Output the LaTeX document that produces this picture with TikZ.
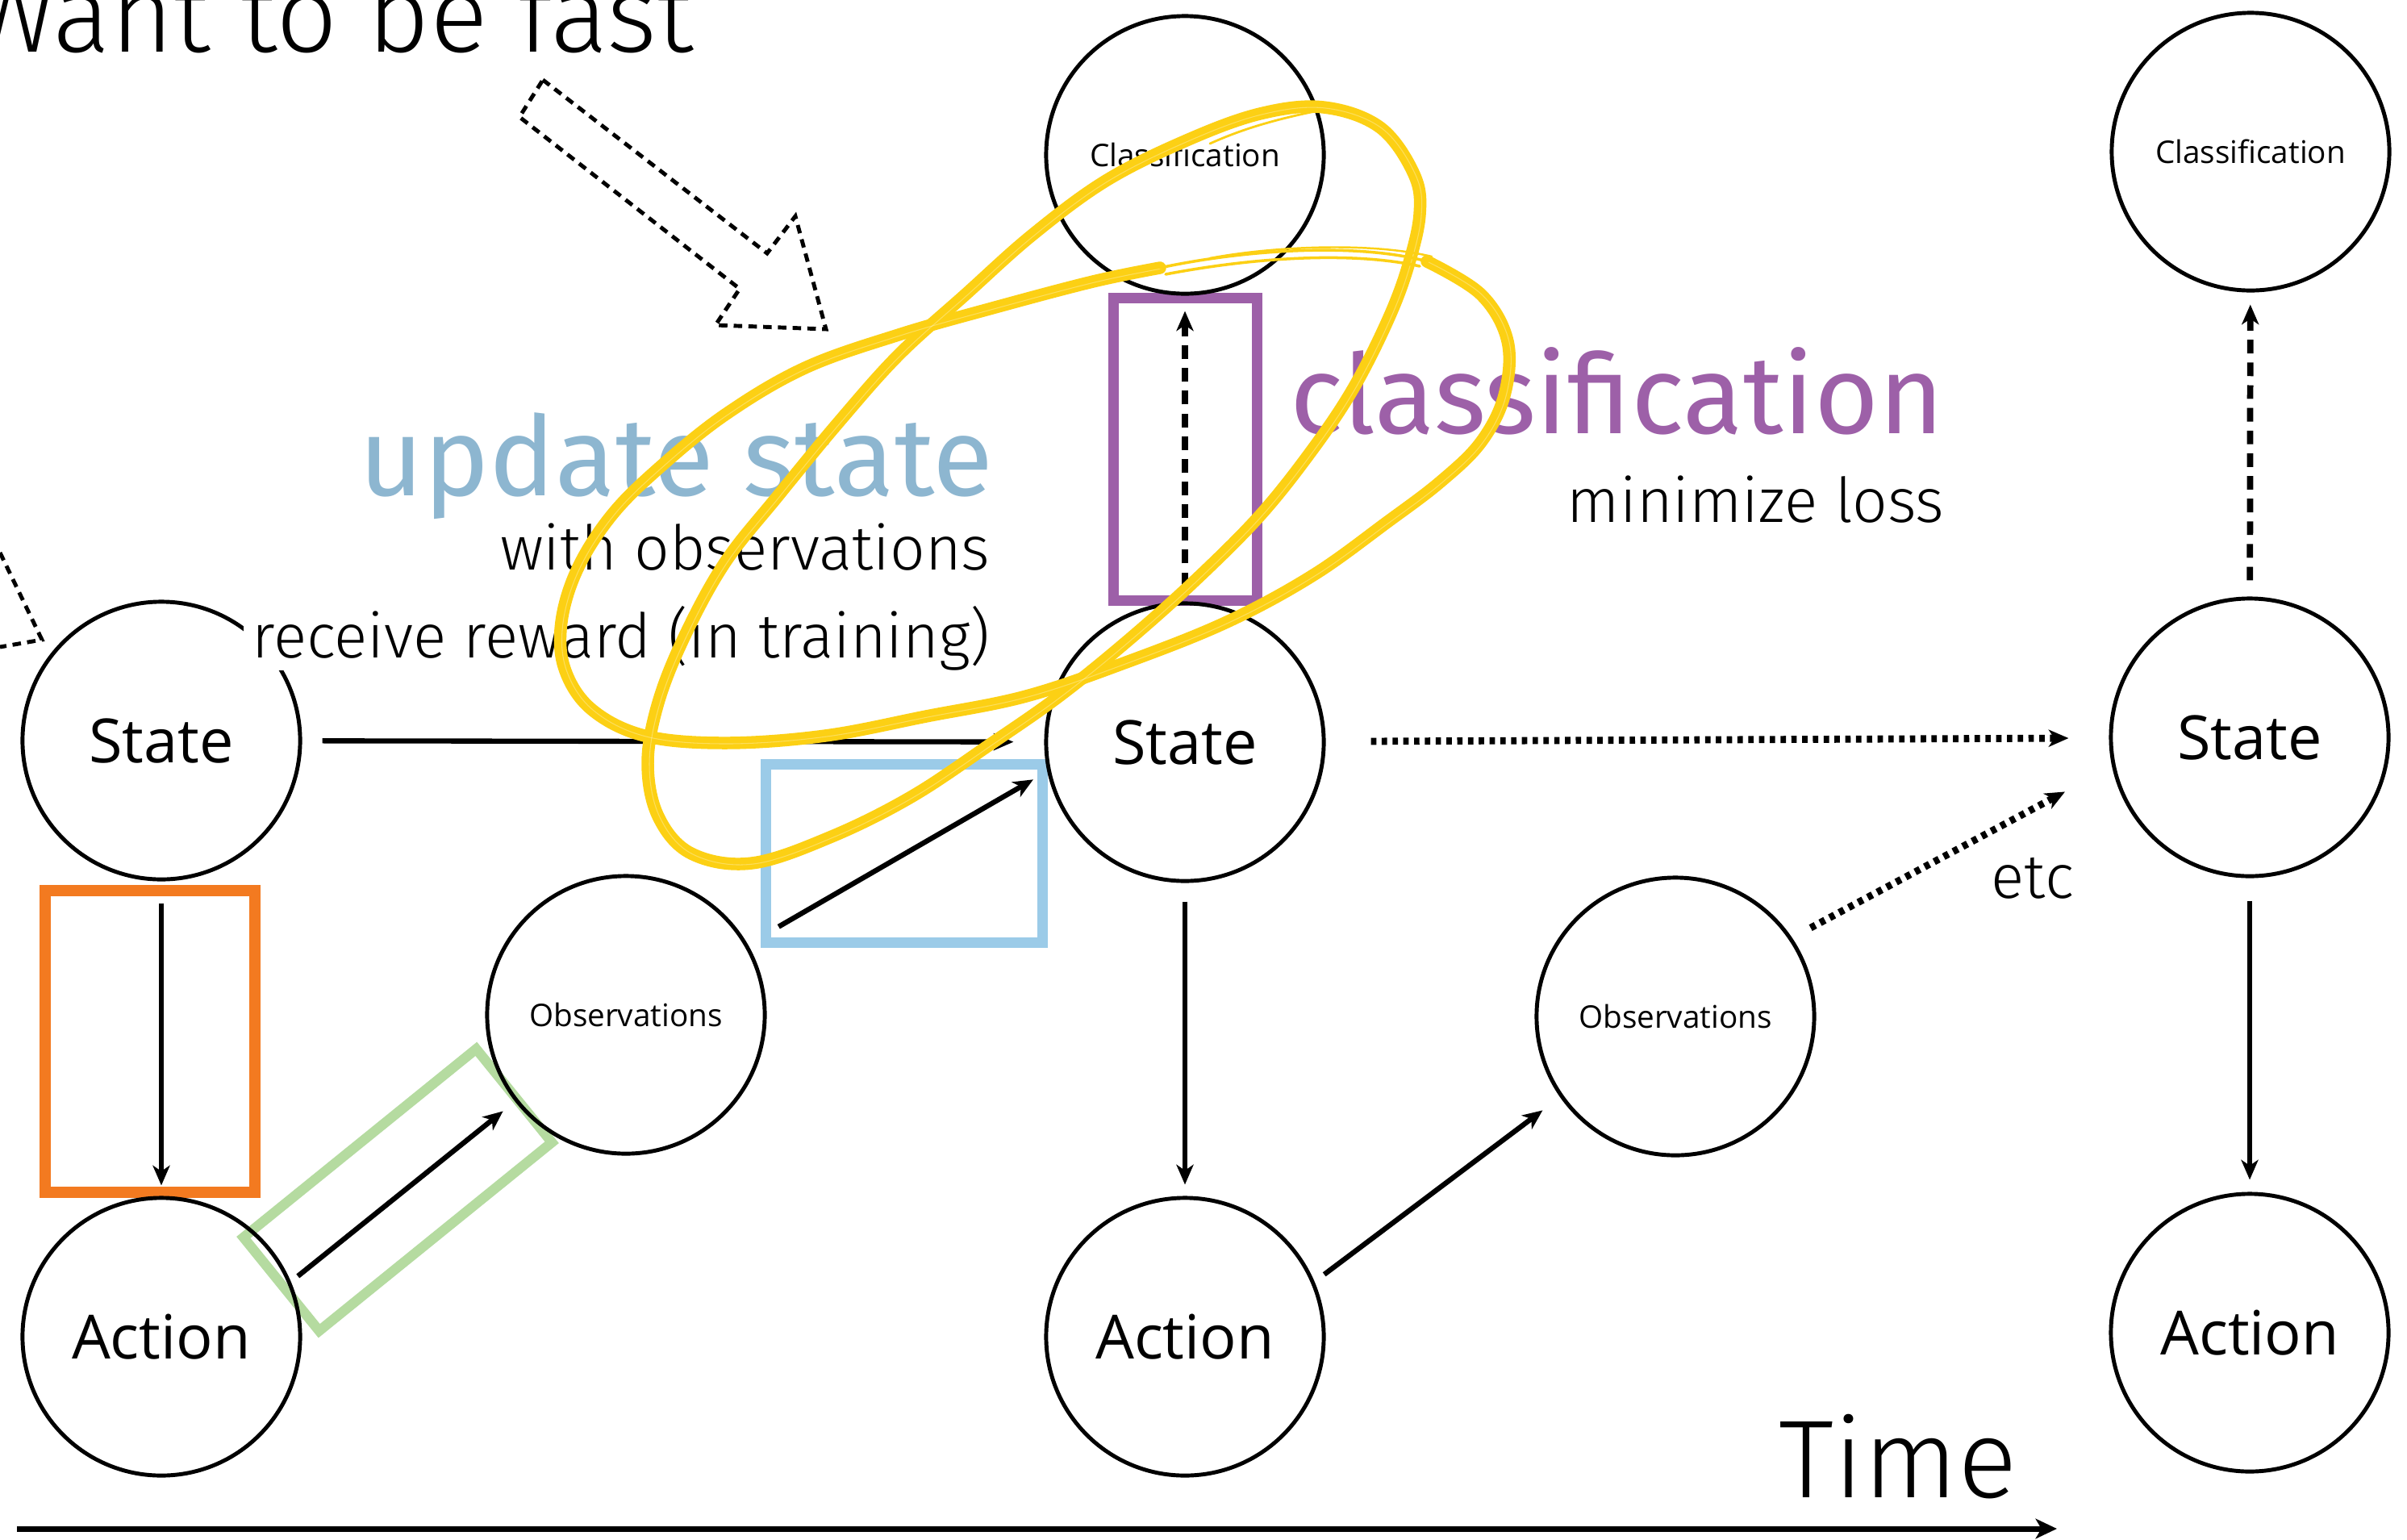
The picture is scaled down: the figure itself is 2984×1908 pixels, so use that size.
\documentclass[tikz,border=0pt]{standalone}
\usepackage{fontspec}
\usetikzlibrary{arrows.meta}
\newfontfamily\nodefont{Open Sans}
\newfontfamily\regfont{Fira Sans}
\IfFontExistsTF{Fira Sans Light}{\newfontfamily\lightfont{Fira Sans Light}}{\newfontfamily\lightfont{Fira Sans}}
\definecolor{markyellow}{RGB}{252,208,20}
\definecolor{boxorange}{RGB}{243,122,32}
\definecolor{boxgreen}{RGB}{181,219,160}
\definecolor{boxblue}{RGB}{155,203,232}
\definecolor{boxpurple}{RGB}{157,96,168}
\definecolor{textblue}{RGB}{141,182,208}
% hand-drawn marker loops, drawn with a given style
\newcommand\markloopA[1]{\draw[#1] plot[smooth cycle, tension=0.6] coordinates {
  (1641,133) (1711,158) (1753,216) (1760,266) (1745,332) (1720,398) (1678,481)
  (1628,556) (1562,639) (1479,722) (1396,796) (1313,863) (1230,921) (1131,987)
  (1031,1037) (932,1070) (857,1058) (816,1012) (803,946) (816,871) (849,788)
  (899,697) (965,614) (1040,523) (1114,440) (1197,365) (1280,291) (1371,224)
  (1471,174) (1562,141)};}
\newcommand\markloopB[1]{\draw[#1] plot[smooth, tension=0.6] coordinates {
  (1769,324) (1836,365) (1869,423) (1865,490)
  (1836,548) (1786,597) (1720,647) (1628,713) (1521,771) (1396,821) (1272,863)
  (1148,888) (1023,912) (899,921) (799,912) (733,879) (700,829) (696,771)
  (716,705) (758,639) (816,581) (899,514) (998,456) (1114,415) (1230,382) (1355,349)
  (1438,332)};}
\begin{document}
\begin{tikzpicture}[x=0.01cm,y=-0.01cm,
  state/.style={circle, draw, line width=1.4pt, minimum size=3.44cm, inner sep=0pt,
    font=\nodefont\fontsize{21.5pt}{24pt}\selectfont},
  small/.style={state, font=\nodefont\fontsize{11pt}{13pt}\selectfont},
  tipped/.style={-{Stealth[length=7pt,width=6pt,inset=2pt]}},
  conn/.style={tipped, line width=1.8pt},
  dashconn/.style={tipped, line width=2.2pt, dash pattern=on 4.8pt off 3.2pt},
  dotconn/.style={tipped, line width=2.5pt, dash pattern=on 1.9pt off 1.9pt},
  hollow/.style={line width=1.4pt, dash pattern=on 3pt off 2.2pt},
  lighttext/.style={inner sep=0pt, font=\lightfont\fontsize{21.8pt}{25pt}\selectfont},
  bigtext/.style={inner sep=0pt, font=\regfont\fontsize{39pt}{42pt}\selectfont},
  marker/.style={markyellow, line width=4.4pt, line cap=round, line join=round},
  streak/.style={white, opacity=0.3, line width=0.3pt},
  whisker/.style={markyellow, line width=1pt, line cap=round}
]
\useasboundingbox (0,0) rectangle (2984,1908);
\fill[white] (0,0) rectangle (2984,1908);
\clip (0,0) rectangle (2984,1908);

% highlight boxes
\draw[boxorange, line width=4pt] (56,1104) rectangle (316,1478);
\draw[boxblue, line width=3.7pt] (949,947) rectangle (1292,1168);
\draw[boxpurple, line width=3.7pt] (1380,369) rectangle (1558,744);
\node[draw=boxgreen, line width=3.5pt, minimum width=3.71cm, minimum height=1.49cm,
      rotate=39, inner sep=0pt] (gbox) at (493,1475) {};

% hollow dashed arrows
\draw[hollow] (673,99) -- (951,314) -- (986,268) -- (1024,408) -- (887,403)
  -- (917,358) -- (644,145) -- cycle;
\draw[hollow] (0,685) -- (52,793) -- (0,802);

% nodes
\node[state] (s1) at (200,918) {State};
\node[state] (a1) at (200,1657) {Action};
\node[small] (o1) at (776,1258) {Observations};
\node[small] (c1) at (1469,192) {Classification};
\node[state] (s2) at (1469,920) {State};
\node[state] (a2) at (1469,1657) {Action};
\node[small] (o2) at (2077,1260) {Observations};
\node[small] (c2) at (2790,188) {Classification};
\node[state] (s3) at (2789,914) {State};
\node[state] (a3) at (2789,1652) {Action};

% connectors
\draw[conn, shorten <=0.25cm, shorten >=0.38cm] (s1) -- (s2);
\draw[conn, shorten <=0.27cm, shorten >=0.13cm] (s1) -- (a1);
\draw[conn, shorten <=0.11cm, shorten >=0.19cm] (a1.23.5) -- (o1.218);
\draw[conn, shorten <=0.44cm, shorten >=0.2cm] (o1.30) -- (s2.192);
\draw[dashconn, shorten <=0.19cm, shorten >=0.19cm] (s2) -- (c1);
\draw[conn, shorten <=0.23cm, shorten >=0.14cm] (s2) -- (a2);
\draw[conn, shorten <=0.15cm, shorten >=0.27cm] (a2.23) -- (o2.215);
\draw[dotconn, shorten <=0.26cm, shorten >=0.66cm] (o2.34) -- (s3.192);
\draw[dotconn, shorten <=0.56cm, shorten >=0.5cm] (s2) -- (s3);
\draw[conn, shorten <=0.28cm, shorten >=0.15cm] (s3) -- (a3);
\draw[dashconn, shorten <=0.2cm, shorten >=0.15cm] (s3) -- (c2);

% time axis
\coordinate (t0) at (21,1895);
\coordinate (t1) at (2550,1895);
\draw[line width=2pt, -{Stealth[length=7.5pt,width=7pt,inset=2pt]}] (t0) -- (t1);

% texts
\node[anchor=base east, inner sep=0pt, font=\lightfont\fontsize{38pt}{40pt}\selectfont]
  (title) at (861,64) {Want to be fast};
\node[bigtext, anchor=base east, text=textblue] (upd) at (1232,614) {update state};
\node[lighttext, anchor=base east] (withobs) at (1228,706) {with observations};
\node[lighttext, anchor=base east, inner xsep=3pt, fill=white] (reward) at (1239,815)
  {receive reward (in training)};
\node[bigtext, anchor=base west, text=boxpurple] (cls) at (1599,537) {classification};
\node[lighttext, anchor=base east] (minloss) at (2411,647) {minimize loss};
\node[lighttext, anchor=base west] (etc) at (2468,1113) {etc};
\node[anchor=base west, inner sep=0pt, font=\lightfont\fontsize{39pt}{42pt}\selectfont]
  (time) at (2205,1856) {Time};

% marker loops with a faint streaky texture
\markloopA{marker}
\markloopB{marker}
\begin{scope}[shift={(2,1)}]
  \markloopA{streak}
  \markloopB{streak}
\end{scope}
% thin tapering ends of the marker stroke
\draw[whisker] (1438,332) .. controls (1540,310) and (1680,300) .. (1769,324);
\draw[whisker] (1445,340) .. controls (1560,318) and (1680,312) .. (1760,330);
\draw[whisker, line width=0.7pt] (1500,320) .. controls (1580,305) and (1700,300) .. (1775,318);
\draw[whisker, line width=0.8pt] (1500,178) .. controls (1540,160) and (1580,148) .. (1640,136);
\end{tikzpicture}
\end{document}
